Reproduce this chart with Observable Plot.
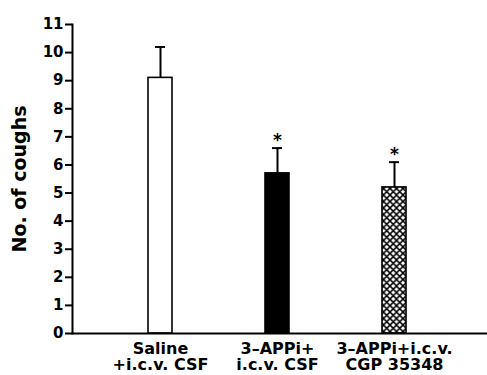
<!DOCTYPE html>
<html>
<head>
<meta charset="utf-8">
<script src="https://cdn.jsdelivr.net/npm/d3@7"></script>
<script src="https://cdn.jsdelivr.net/npm/@observablehq/plot@0.6"></script>
<style>
  html, body { margin: 0; padding: 0; background: #fff; }
</style>
</head>
<body>
<div id="chart"></div>
<script>
const groups = ["Saline\n+i.c.v. CSF", "3–APPi+\ni.c.v. CSF", "3–APPi+i.c.v.\nCGP 35348"];
const means = [9.1, 5.7, 5.2];
const errors = [1.1, 0.9, 0.9];
const significant = [false, true, true];
const yTicks = [0, 1, 2, 3, 4, 5, 6, 7, 8, 9, 10, 11];
const fills = ["white", "black", "url(#xhatch)"];

const data = groups.map((g, i) => ({group: g, mean: means[i], top: means[i] + errors[i], sig: significant[i]}));

const font = "'DejaVu Sans', sans-serif";

const chart = Plot.plot({
  width: 487,
  height: 375,
  marginLeft: 72,
  marginRight: 0,
  marginTop: 24,
  marginBottom: 42,
  style: {fontFamily: font, color: "black", background: "white"},
  x: {domain: groups, range: [147.5, 407], paddingInner: 0.797, paddingOuter: 0},
  y: {domain: [0, 11]},
  color: {domain: groups, range: fills},
  marks: [
    Plot.barY(data, {x: "group", y: "mean", fill: "group", stroke: "black", strokeWidth: 1.6}),
    Plot.ruleX(data, {x: "group", y1: "mean", y2: "top", stroke: "black", strokeWidth: 2}),
    Plot.tickY(data, {x: "group", y: "top", insetLeft: 7, insetRight: 7, stroke: "black", strokeWidth: 2}),
    Plot.text(data.filter(d => d.sig), {x: "group", y: "top", text: () => "*", dy: -8, fontSize: 17, fontWeight: "bold"}),
    Plot.axisY({ticks: yTicks, tickSize: 7, tickPadding: 2, strokeWidth: 2,
      label: "No. of coughs", labelAnchor: "center", labelOffset: 60, labelArrow: "none"}),
    Plot.axisX({tickSize: 0, tickPadding: 9, lineHeight: 1, label: null}),
    Plot.frame({anchor: "left", strokeWidth: 2}),
    Plot.frame({anchor: "bottom", strokeWidth: 2})
  ]
});

const svg = d3.select(chart);
function styleGroup(label, size) {
  svg.selectAll("g").filter(function () { return this.getAttribute("aria-label") === label; })
    .attr("font-size", size).attr("font-weight", "bold")
    .style("font-size", size + "px").style("font-weight", "bold")
    .selectAll("text").style("font-size", size + "px").style("font-weight", "bold");
}
styleGroup("y-axis tick label", 15);
styleGroup("x-axis tick label", 16);
styleGroup("y-axis label", 19);

const defs = svg.insert("defs", ":first-child");
const s = 6.5;
const pat = defs.append("pattern")
  .attr("id", "xhatch")
  .attr("patternUnits", "userSpaceOnUse")
  .attr("width", s)
  .attr("height", s);
pat.append("rect").attr("width", s).attr("height", s).attr("fill", "white");
pat.append("path").attr("d", `M0,0 L${s},${s} M${s},0 L0,${s} M-1,${s-1} L1,${s+1} M${s-1},-1 L${s+1},1 M-1,1 L1,-1 M${s-1},${s+1} L${s+1},${s-1}`)
  .attr("stroke", "black").attr("stroke-width", 1.5);

document.getElementById("chart").appendChild(chart);
</script>
</body>
</html>
